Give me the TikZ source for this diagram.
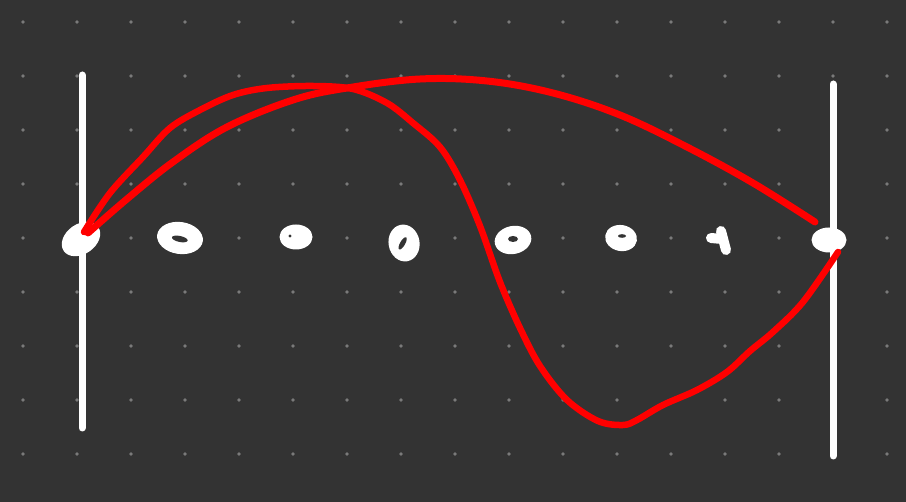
\documentclass[tikz,border=0pt]{standalone}
\usepackage{xcolor}
\usepackage{tikz}
\usetikzlibrary{positioning,calc}

\definecolor{board}{HTML}{333333}
\definecolor{griddot}{HTML}{7A7A7A}
\definecolor{inkred}{HTML}{FF0000}

\tikzset{
    barline/.style={white, line width=7pt, line cap=round},
    inkline/.style={inkred, line width=6.5pt, line cap=round, line join=round},
    blob/.style={fill=white},
    hole/.style={fill=board}
}

\begin{document}
\begin{tikzpicture}[x=1pt, y=-1pt]
        % Board
        \fill[board] (0,0) rectangle (906,502);
        \useasboundingbox (0,0) rectangle (906,502);
        \foreach \i in {0,...,16} {
            \foreach \j in {0,...,8} {
                \fill[griddot] (23+54*\i,22+54*\j) circle (1.9);
            }
        }

        % Bars
        \coordinate (ltop) at (82,75);
        \coordinate (lbot) at (82,428);
        \coordinate (rtop) at (833,84);
        \coordinate (rbot) at (833,456);
        \draw[barline] (ltop) -- (lbot); % Left bar
        \draw[barline] (rtop) -- (rbot); % Right bar

        % Blobs
        \coordinate (b1) at (81,239);
        \coordinate (b2) at (180,238);
        \coordinate (b3) at (296,237);
        \coordinate (b4) at (404,243);
        \coordinate (b5) at (513,240);
        \coordinate (b6) at (621,238);
        \coordinate (b8) at (829,240);
        \fill[blob, rotate around={35:(b1)}] (b1) ellipse (21 and 15);
        \fill[blob, rotate around={-8:(b2)}] (b2) ellipse (23 and 16);
        \fill[hole, rotate around={-12:(b2)}] ($(b2)+(0,1)$) ellipse (8 and 3);
        \fill[blob] (b3) ellipse (16.5 and 12.5);
        \fill[hole] ($(b3)+(-6,-1)$) circle (1.6);
        \fill[blob, rotate around={10:(b4)}] (b4) ellipse (15.5 and 18.5);
        \fill[hole, rotate around={-30:(b4)}] ($(b4)+(-1,1)$) ellipse (2.5 and 7);
        \fill[blob, rotate around={12:(b5)}] (b5) ellipse (18.5 and 14);
        \fill[hole] ($(b5)+(0,-1)$) ellipse (5 and 3);
        \fill[blob, rotate around={-10:(b6)}] (b6) ellipse (16 and 13);
        \fill[hole] ($(b6)+(1,-2)$) ellipse (4 and 1.8);
        \draw[white, line width=10pt, line cap=round] (711,238) -- (722,239); % Cross stroke
        \draw[white, line width=10pt, line cap=round] (721,231) -- (726,250); % Cross stroke
        \fill[blob] (b8) ellipse (17.5 and 12.5);

        % Curves
        \coordinate (lstart) at (84,232);
        \coordinate (rend) at (815,222);
        \coordinate (rlow) at (838,252);
        \draw[inkline] plot[smooth, tension=0.55] coordinates {(lstart) (110,193) (143,157) (170,128)
            (200,110) (233,95) (267,88) (313,86) (353,89) (387,103) (413,123) (440,147) (460,180)
            (480,226) (500,282) (520,328) (540,366) (567,400) (598,421) (623,425) (637,420)
            (663,405) (697,390) (727,372) (750,351) (773,332) (803,302) (rlow)};
        \draw[inkline, line width=7pt] plot[smooth, tension=0.6] coordinates {(88,233) (127,199)
            (173,162) (227,127) (293,100) (347,88) (420,79) (487,81) (553,93) (620,115)
            (687,147) (753,183) (rend)};
    \end{tikzpicture}
\end{document}
